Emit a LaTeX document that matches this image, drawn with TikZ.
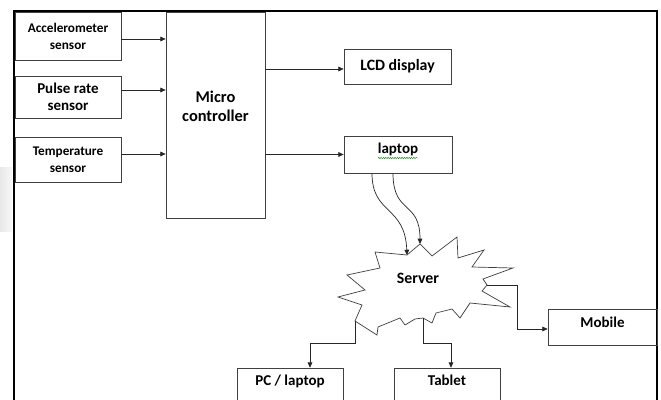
\documentclass[tikz,border=0pt]{standalone}
\usepackage{fontspec}
\setmainfont{Carlito}
\usetikzlibrary{arrows.meta,positioning,calc,decorations.pathmorphing}

\begin{document}
\begin{tikzpicture}[
  x=0.03cm, y=-0.03cm,
  font=\fontsize{12.8}{14.5}\selectfont\bfseries,
  bx/.style  ={draw=black!75, line width=0.6pt, inner sep=0pt, align=center, minimum width=3.18cm},
  sm/.style  ={font=\fontsize{11.3}{14.5}\selectfont\bfseries},
  ar/.style  ={-{Triangle[length=4.5pt,width=4pt]}, black!85, line width=0.6pt}
]
\useasboundingbox (0,0) rectangle (661,400);
\clip (0,0) rectangle (661,400);
\shade[left color=black!9, right color=black!3] (0,168) rectangle (12,232);
\draw[line width=1.7pt] (14,11) rectangle (657,430);

% ---------- sensors ----------
\node[bx, sm, minimum height=1.44cm] (acc) at (68,36)    {Accelerometer\\sensor};
\node[bx, minimum height=1.26cm]     (pul) at (68,97)    {Pulse rate\\sensor};
\node[bx, sm, minimum height=1.35cm] (tmp) at (68,159.5) {Temperature\\sensor};

\node[bx, minimum width=2.97cm, minimum height=6.18cm] (mcu) at (215.5,115) {};
\node[align=center, font=\fontsize{14}{16.5}\selectfont\bfseries] (mcutx) at (215.5,106) {Micro\\controller};

\draw[ar] ($(acc.east)+(0,3)$)    -- ($(mcu.west |- acc.east)+(0,3)$);
\draw[ar] ($(pul.east)+(0,-7)$)   -- ($(mcu.west |- pul.east)+(0,-7)$);
\draw[ar] ($(tmp.east)+(0,-5.5)$) -- ($(mcu.west |- tmp.east)+(0,-5.5)$);

% ---------- outputs ----------
\node[bx, minimum width=3.21cm, minimum height=1.05cm, font=\fontsize{13.5}{15}\selectfont\bfseries]
  (lcd) at (397.5,66.5) {LCD display};
\node[bx, minimum width=3.24cm, text height=14.9pt, text depth=16.6pt] (lap) at (398,154.5) {laptop};
\draw[green!55!black, line width=0.4pt, decorate, decoration={snake, amplitude=0.5pt, segment length=2pt}]
  (378,158) -- (418,158);

\draw[ar] ($(lcd.west -| mcu.east)+(0,2.5)$) -- ($(lcd.west)+(0,2.5)$);
\draw[ar] (lap.west -| mcu.east) -- (lap.west);

% ---------- server ----------
\draw[black!75, line width=0.6pt, fill=white]
  (420,244) -- (432,256) -- (457,237) -- (458,258) -- (484,250) -- (472,267)
  -- (513,268) -- (483,279) -- (487,285) -- (482,291) -- (510,307) -- (470,303)
  -- (460,318) -- (452,309) -- (436,313) -- (432,323) -- (423,318) -- (415,319)
  -- (405,325) -- (400,318) -- (378,327) -- (377,335) -- (355,321) -- (362,305)
  -- (338,297) -- (365,290) -- (347,275) -- (380,268) -- (375,252) -- (407,255) -- cycle;
\node[font=\fontsize{13.5}{15}\selectfont\bfseries] (srv) at (418,278) {Server};
\coordinate (sa) at (407,255);
\coordinate (sb) at (420,244);
\coordinate (sp) at (355,321);
\coordinate (st) at (423,318);
\coordinate (sm) at (487,285);

\draw[ar] ($(lap.south)+(-26,0)$) .. controls (372,215) and (405,205) .. (sa);
\draw[ar] ($(lap.south)+(-5,0)$)  .. controls (393,215) and (420,200) .. (sb);

% ---------- clients ----------
\node[bx, minimum width=3.27cm, text height=15.8pt, text depth=14.9pt] (mob) at (602.5,327) {Mobile};
\node[bx, text height=14.5pt, text depth=19.5pt] (pc)  at (290,388) {PC / laptop};
\node[bx, text height=14.5pt, text depth=19.5pt] (tab) at (447,388) {Tablet};

\draw[ar] (sp) -- ++(0,22) -| ($(pc.north)+(20,0)$);
\draw[ar] (st) -- ++(0,25) -| ($(tab.north)+(4,0)$);
\draw[ar] (sm) -- ++(30,0) |- ($(mob.west)+(0,2)$);
\end{tikzpicture}
\end{document}
